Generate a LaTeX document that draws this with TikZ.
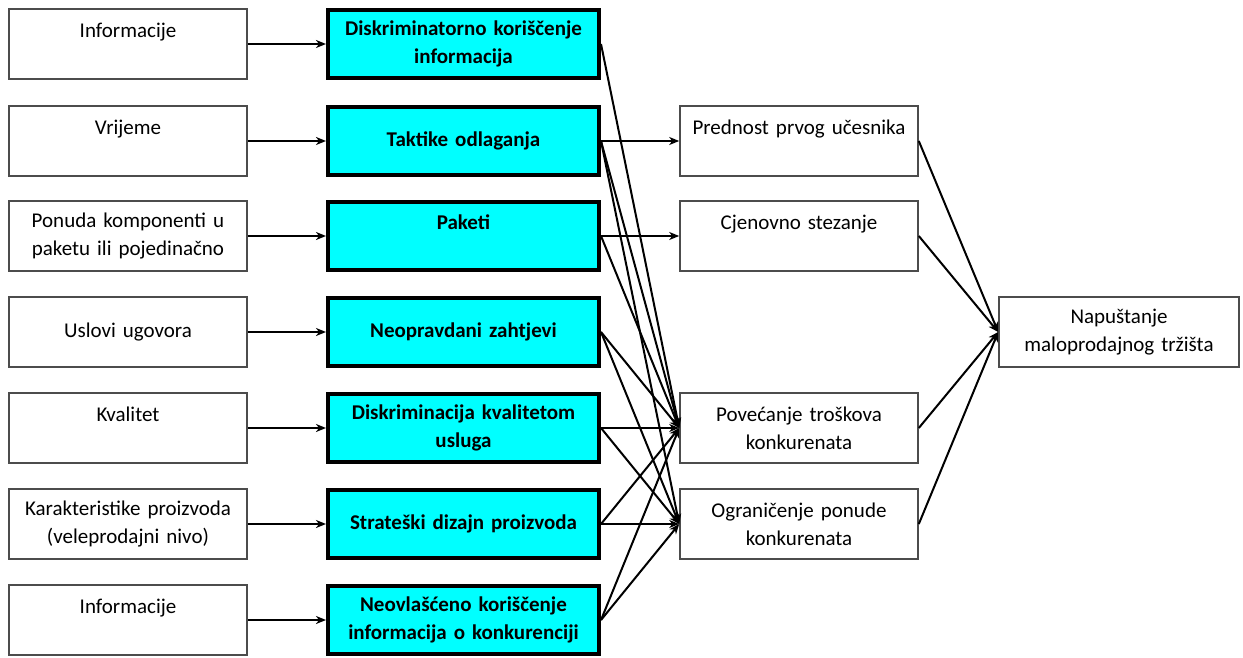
\documentclass[tikz,border=0pt]{standalone}
\usepackage{fontspec}
\setmainfont{Carlito}
\usetikzlibrary{arrows.meta}
\definecolor{tacticfill}{RGB}{0,255,255}

\begin{document}
\begin{tikzpicture}[
  x=1pt, y=-1pt,
  source/.style={draw=black!70, line width=1.6pt, fill=white, minimum width=238pt, minimum height=70pt, text width=234pt, align=center, inner sep=0pt, font=\fontsize{21}{28}\selectfont},
  tactic/.style={draw=black, line width=4pt, fill=tacticfill, minimum width=271pt, minimum height=68pt, text width=265pt, align=center, inner sep=0pt, font=\fontsize{21}{28}\selectfont\bfseries},
  arrow/.style={-{Stealth[length=10pt,width=8pt,inset=3pt]}, line width=2pt},
  ]

  \useasboundingbox (0,0) rectangle (1243,658);

  % Sources (left column)
  \node[source] (s1) at (128,44) {Informacije\\\mbox{}};
  \node[source] (s2) at (128,141) {Vrijeme\\\mbox{}};
  \node[source] (s3) at (128,236) {Ponuda komponenti u\\paketu ili pojedinačno};
  \node[source] (s4) at (128,332) {Uslovi ugovora};
  \node[source] (s5) at (128,428) {Kvalitet\\\mbox{}};
  \node[source] (s6) at (128,524) {Karakteristike proizvoda\\(veleprodajni nivo)};
  \node[source] (s7) at (128,620) {Informacije\\\mbox{}};

  % Tactics (middle column)
  \node[tactic] (t1) at (463.5,44) {Diskriminatorno koriščenje\\informacija};
  \node[tactic] (t2) at (463.5,141) {Taktike odlaganja};
  \node[tactic] (t3) at (463.5,236) {Paketi\\\mbox{}};
  \node[tactic] (t4) at (463.5,332) {Neopravdani zahtjevi};
  \node[tactic] (t5) at (463.5,428) {Diskriminacija kvalitetom\\usluga};
  \node[tactic] (t6) at (463.5,524) {Strateški dizajn proizvoda};
  \node[tactic] (t7) at (463.5,620) {Neovlašćeno koriščenje\\informacija o konkurenciji};

  % Effects (right column)
  \node[source] (e1) at (799,141) {Prednost prvog učesnika\\\mbox{}};
  \node[source] (e2) at (799,236) {Cjenovno stezanje\\\mbox{}};
  \node[source] (e3) at (799,428) {Povećanje troškova\\konkurenata};
  \node[source] (e4) at (799,524) {Ograničenje ponude\\konkurenata};

  % Outcome
  \node[source, minimum width=240pt] (out) at (1119,332) {Napuštanje\\maloprodajnog tržišta};

  % Sources to tactics
  \foreach \i in {1,...,7}
    \draw[arrow] (s\i) -- (t\i);

  % Tactics to effects
  \draw[arrow] (t2) -- (e1);
  \draw[arrow] (t3) -- (e2);
  \foreach \i in {1,...,7}
    \draw[arrow] (t\i.east) -- (e3.west);
  \foreach \i in {2,4,5,6,7}
    \draw[arrow] (t\i.east) -- (e4.west);

  % Effects to outcome
  \foreach \i in {1,...,4}
    \draw[arrow] (e\i.east) -- (out.west);

\end{tikzpicture}
\end{document}
